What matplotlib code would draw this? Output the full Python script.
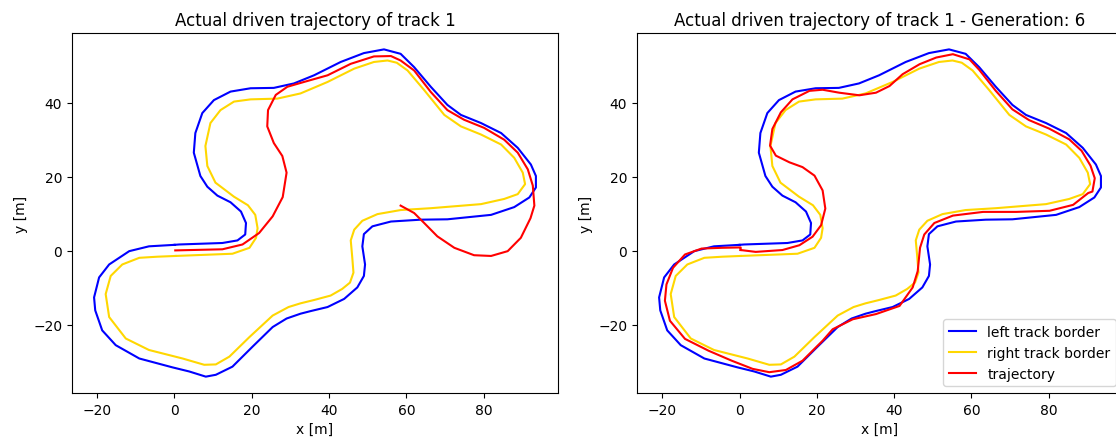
import numpy as np
import matplotlib.pyplot as plt

# track borders (same for both panels)
left_x = [0.0, 1.2, 12.4, 16.3, 18.3, 18.5, 17.2, 14.5, 11.1, 8.5, 6.7, 5.0, 5.4, 7.2, 10.2, 14.5, 19.7,
          25.7, 30.9, 36.1, 43.0, 49.0, 54.2, 58.5, 62.0, 66.3, 70.6, 74.1, 79.3, 84.5, 88.8, 92.2, 93.5,
          93.5, 91.8, 87.9, 81.9, 70.6, 63.7, 56.0, 53.4, 51.2, 49.0, 48.6, 49.3, 49.0, 47.3, 43.9, 39.6,
          35.2, 32.6, 29.0, 25.4, 20.2, 15.0, 10.7, 8.1, 3.8, -0.5, -9.1, -15.2, -18.7, -20.5, -20.8, -19.5,
          -16.9, -11.7, -6.6, 0.0]
left_y = [1.6, 1.7, 2.1, 2.8, 4.4, 7.5, 10.6, 13.1, 14.9, 17.3, 20.2, 26.5, 31.8, 37.2, 40.7, 43.0, 43.9,
          44.0, 45.2, 47.4, 51.0, 53.4, 54.4, 53.2, 49.6, 44.3, 39.4, 36.7, 34.5, 31.8, 27.8, 23.3, 20.2,
          17.1, 14.4, 11.8, 9.7, 8.5, 8.4, 7.9, 7.2, 6.6, 4.5, 1.2, -3.7, -6.8, -9.9, -13.0, -15.2,
          -16.3, -17.0, -18.3, -20.6, -25.9, -31.3, -33.5, -34.0, -32.6, -31.5, -29.1, -25.5, -21.5, -16.1,
          -12.6, -7.2, -3.7, -0.1, 1.2, 1.6]

right_x = [0.3, 15.0, 19.4, 21.1, 21.5, 20.9, 19.0, 15.4, 10.6, 8.5, 8.0, 9.3, 11.9, 15.4, 19.7, 26.6, 32.6,
           39.6, 46.5, 51.6, 55.1, 57.5, 60.3, 64.6, 69.8, 74.1, 79.3, 84.5, 87.9, 90.1, 90.7, 88.8, 85.3,
           79.3, 66.3, 58.5, 52.5, 48.6, 46.5, 45.6, 46.0, 46.3, 45.4, 43.4, 40.4, 36.1, 32.6, 29.5, 25.4,
           19.4, 14.2, 10.7, 7.7, 2.1, -6.6, -12.6, -16.9, -17.8, -16.5, -13.5, -9.1, -4.4, 0.3]
right_y = [-1.4, -0.8, 0.8, 3.5, 6.1, 9.7, 12.3, 14.6, 18.4, 22.9, 28.3, 34.5, 38.0, 40.3, 40.9, 41.1, 42.5,
           45.6, 49.2, 51.0, 51.4, 50.8, 48.7, 43.4, 36.7, 33.6, 31.4, 28.7, 25.1, 21.1, 18.0, 15.3, 14.0,
           12.6, 11.5, 11.0, 9.9, 8.1, 5.7, 2.8, -1.9, -5.9, -8.6, -10.3, -12.1, -13.3, -14.2, -15.2, -17.5,
           -23.3, -28.6, -30.7, -30.8, -29.1, -26.8, -23.7, -17.9, -11.7, -6.8, -3.7, -1.9, -1.6, -1.4]

# driven trajectory, first run
traj1_x = [0.2, 12.4, 17.6, 21.9, 25.4, 28.0, 29.0, 27.9, 25.7, 24.0, 24.2, 26.2, 29.2, 33.5, 39.6, 45.6,
           51.6, 56.0, 58.5, 62.0, 66.3, 70.6, 74.9, 80.1, 85.3, 88.8, 91.4, 92.7, 93.1, 92.1, 89.6, 86.2,
           81.9, 77.5, 72.4, 68.0, 64.6, 62.0, 58.5]
traj1_y = [0.1, 0.4, 1.7, 4.8, 9.3, 14.5, 21.1, 25.6, 29.1, 33.6, 38.0, 42.1, 44.3, 45.6, 47.4, 50.5,
           52.5, 52.6, 51.4, 48.7, 42.9, 38.0, 35.4, 33.2, 30.0, 26.5, 22.0, 17.6, 12.2, 8.8, 3.5, -0.1,
           -1.4, -1.2, 0.8, 3.9, 7.5, 10.2, 12.2]

# driven trajectory, generation 6
traj6_x = [0.3, 4.2, 11.1, 15.5, 18.9, 21.1, 22.2, 21.5, 19.4, 16.3, 12.9, 9.4, 7.9, 8.5, 10.7, 13.7, 18.1,
           21.5, 25.8, 31.0, 35.3, 38.8, 42.2, 46.6, 50.9, 55.2, 59.5, 62.0, 66.3, 70.6, 74.9, 80.1, 85.3,
           88.5, 90.8, 91.9, 91.3, 90.2, 86.3, 80.2, 71.6, 63.0, 55.2, 50.4, 47.8, 46.7, 46.1, 44.8, 41.4,
           35.3, 29.3, 24.1, 21.5, 16.3, 12.0, 7.7, 3.4, -2.0, -8.0, -14.1, -18.0, -19.3, -18.9, -17.2,
           -14.1, -9.8, -4.6, 0.0, 0.3, 0.3]
traj6_y = [0.2, -0.3, 0.2, 1.5, 3.8, 6.9, 11.4, 16.3, 20.3, 22.6, 23.9, 25.7, 28.4, 32.9, 37.4, 40.9, 43.2,
           43.5, 42.7, 42.0, 42.7, 44.5, 47.7, 50.4, 52.2, 53.1, 51.7, 48.9, 43.2, 38.2, 35.3, 33.0, 30.1,
           27.0, 23.0, 19.6, 16.0, 15.6, 12.4, 10.8, 10.5, 10.5, 9.5, 7.5, 4.4, 0.8, -5.5, -9.9, -14.9,
           -17.1, -18.5, -21.2, -24.3, -29.7, -32.2, -32.8, -31.9, -29.7, -27.0, -23.8, -18.9, -13.5, -9.1,
           -4.6, -1.0, 0.6, 0.8, 0.9, 0.9, 0.2]

fig = plt.figure(figsize=(11.16, 4.39), dpi=100)
ax1 = fig.add_axes([0.0645, 0.1025, 0.4355, 0.82])
ax2 = fig.add_axes([0.5708, 0.1025, 0.4355, 0.82])

for ax, tx, ty, title in [(ax1, traj1_x, traj1_y, "Actual driven trajectory of track 1"),
                          (ax2, traj6_x, traj6_y, "Actual driven trajectory of track 1 - Generation: 6")]:
    ax.plot(left_x, left_y, color='blue', label='left track border')
    ax.plot(right_x, right_y, color='gold', label='right track border')
    ax.plot(tx, ty, color='red', label='trajectory')
    ax.set_title(title)
    ax.set_xlabel("x [m]")
    ax.set_ylabel("y [m]")

ax2.legend(loc='lower right')
fig.savefig("out.png")
